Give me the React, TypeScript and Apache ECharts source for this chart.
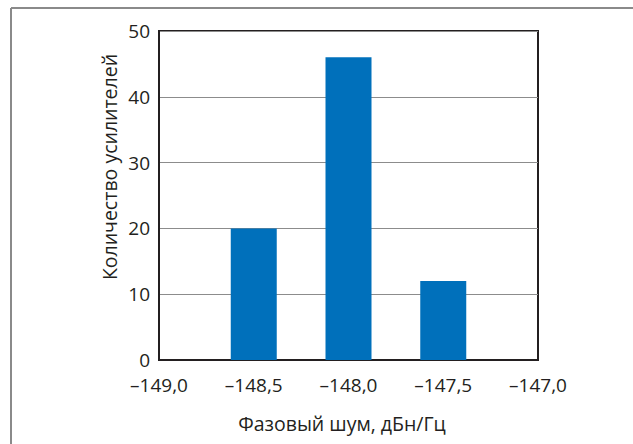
import React, { useEffect, useRef } from "react";
import * as echarts from "echarts";

const binCenters: number[] = [-148.5, -148.0, -147.5];
const counts: number[] = [20, 46, 12];
const xTickMin = -149;
const xTickMax = -147;
const xTickStep = 0.5;
const yTickMax = 50;
const yTickStep = 10;
const xTitle = "Фазовый шум, дБн/Гц";
const yTitle = "Количество усилителей";

const FONT = "'Open Sans', 'Noto Sans', sans-serif";
const TEXT = "#231f20";

export default function App() {
  const ref = useRef<HTMLDivElement>(null);
  useEffect(() => {
    document.body.style.margin = "0";
    const chart = echarts.init(ref.current!, null, { renderer: "svg" });
    const fmt = (v: number) =>
      (v < 0 ? "\u2013" : "") + Math.abs(v).toFixed(1).replace(".", ",");
    chart.setOption({
      animation: false,
      backgroundColor: "#ffffff",
      grid: {
        left: 159,
        top: 31,
        right: 95,
        bottom: 84,
        show: true,
        borderColor: TEXT,
        borderWidth: 2,
        backgroundColor: "transparent",
      },
      xAxis: {
        type: "value",
        min: xTickMin,
        max: xTickMax,
        interval: xTickStep,
        axisLine: { show: true, lineStyle: { color: TEXT, width: 2 } },
        axisTick: { show: false },
        splitLine: { show: false },
        axisLabel: {
          formatter: fmt,
          color: TEXT,
          fontFamily: FONT,
          fontSize: 19,
          margin: 15,
        },
      },
      yAxis: {
        type: "value",
        min: 0,
        max: yTickMax,
        interval: yTickStep,
        axisLine: { show: true, lineStyle: { color: TEXT, width: 2 } },
        axisTick: { show: false },
        splitLine: { show: true, lineStyle: { color: "#8c8c8c", width: 1 } },
        axisLabel: {
          color: TEXT,
          fontFamily: FONT,
          fontSize: 19,
          margin: 9,
        },
      },
      series: [
        {
          type: "bar",
          data: binCenters.map((c, i) => [c, counts[i]]),
          barWidth: 46,
          itemStyle: { color: "#0070bb" },
          z: 1,
        },
      ],
      graphic: [
        {
          type: "line",
          shape: { x1: 11, y1: 8, x2: 633, y2: 8 },
          style: { stroke: "#8a8a8a", lineWidth: 2 },
        },
        {
          type: "line",
          shape: { x1: 11, y1: 8, x2: 11, y2: 444 },
          style: { stroke: "#8a8a8a", lineWidth: 2 },
        },
        {
          type: "text",
          x: 109,
          y: 167,
          rotation: Math.PI / 2,
          style: {
            text: yTitle,
            fill: TEXT,
            font: `19.5px ${FONT}`,
            align: "center",
            verticalAlign: "middle",
          },
        },
        {
          type: "text",
          x: 342,
          y: 423,
          style: {
            text: xTitle,
            fill: TEXT,
            font: `19.5px ${FONT}`,
            align: "center",
            verticalAlign: "middle",
          },
        },
      ],
    });
    return () => chart.dispose();
  }, []);
  return (
    <div
      ref={ref}
      style={{ position: "absolute", left: 0, top: 0, width: 633, height: 444 }}
    />
  );
}
